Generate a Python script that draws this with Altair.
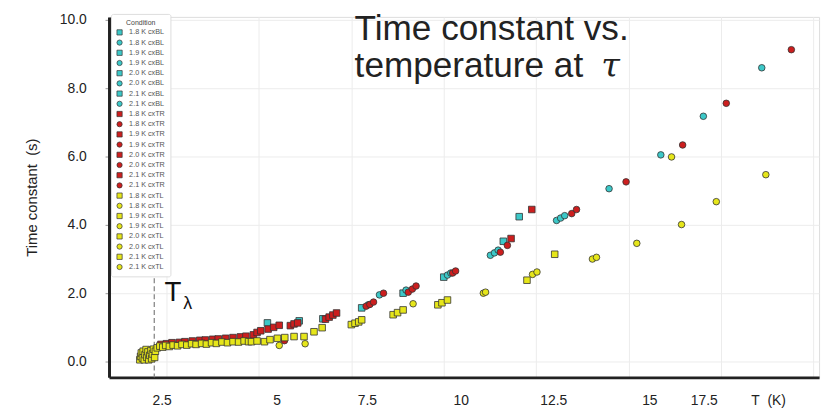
import altair as alt
import pandas as pd

# ---------------- data ----------------
# cxBL (cyan)
BL_sq_T   = [5.23, 6.09, 6.73, 7.78, 8.90, 10.00, 11.61, 12.04]
BL_sq_tau = [1.13, 1.19, 1.25, 1.57, 2.00, 2.47, 3.52, 4.24]
BL_sq_bath = ["1.8", "1.9", "2.0", "1.8", "1.9", "2.0", "2.1", "2.1"]

BL_ci_T   = [7.96, 8.26, 8.98, 10.10, 10.19, 11.26, 11.37, 11.47, 13.05, 13.16, 13.27, 14.47, 15.87, 17.02, 18.60]
BL_ci_tau = [1.66, 1.95, 2.09, 2.53, 2.59, 3.11, 3.18, 3.26, 4.13, 4.20, 4.27, 5.06, 6.05, 7.18, 8.60]
BL_ci_bath = ["1.8", "1.8", "1.9", "1.9", "2.0", "2.0", "2.1", "2.1", "1.8", "1.9", "2.0", "2.1", "1.8", "1.9", "2.0"]

# cxTR (red)
TR_sq_T   = [2.35, 2.50, 2.65, 2.85, 3.00, 3.20, 3.40, 3.55, 3.75, 3.90, 4.10, 4.30, 4.50, 4.65,
             4.85, 4.95, 5.05, 5.25, 5.40, 5.55, 5.85, 5.95, 6.05, 6.80, 6.90, 7.00, 7.10, 11.82, 12.38]
TR_sq_tau = [0.50, 0.52, 0.55, 0.56, 0.58, 0.60, 0.62, 0.63, 0.65, 0.66, 0.68, 0.70, 0.72, 0.74,
             0.78, 0.85, 0.90, 0.95, 1.00, 1.06, 1.05, 1.10, 1.13, 1.24, 1.30, 1.36, 1.42, 3.60, 4.45]
TR_sq_bath = ["1.8", "1.8", "1.8", "1.8", "1.9", "1.9", "1.9", "1.9", "2.0", "2.0", "2.0", "2.0", "2.1", "2.1",
              "1.8", "1.8", "1.9", "1.9", "2.0", "2.0", "2.1", "2.1", "2.1", "1.8", "1.9", "2.0", "2.1", "1.9", "2.0"]

TR_ci_T   = [5.69, 7.90, 8.00, 8.10, 8.37, 9.04, 9.15, 9.25, 10.24, 10.32, 11.53, 11.72, 13.46, 13.59, 14.93, 16.46, 17.64, 19.40]
TR_ci_tau = [0.61, 1.62, 1.67, 1.74, 2.00, 2.03, 2.12, 2.21, 2.59, 2.65, 3.20, 3.40, 4.33, 4.45, 5.26, 6.34, 7.56, 9.13]
TR_ci_bath = ["1.8", "1.8", "1.9", "2.0", "2.1", "1.8", "1.9", "2.0", "2.1", "1.8", "1.9", "2.0", "2.1", "1.8", "1.9", "2.0", "2.1", "1.8"]

# cxTL (yellow)
TL_sq_T   = [1.78, 1.80, 1.82, 1.85, 1.87, 1.90, 1.92, 1.95, 1.97, 2.00, 2.02, 2.05, 2.08, 2.10, 2.12, 2.15, 2.18, 2.20,
             2.25, 2.32, 2.40, 2.48, 2.58, 2.68, 2.80, 2.92, 3.05, 3.18, 3.30, 3.45, 3.58, 3.72, 3.85, 4.00, 4.15, 4.30, 4.45, 4.60, 4.72,
             4.80, 4.95, 5.15, 5.30, 5.50, 5.70, 5.95, 6.22, 6.49, 6.71, 7.50, 7.60, 7.70, 7.78, 8.63, 8.75, 8.90,
             9.84, 9.95, 10.10, 12.25, 13.00]
TL_sq_tau = [0.05, 0.15, 0.25, 0.10, 0.30, 0.05, 0.20, 0.35, 0.12, 0.28, 0.05, 0.18, 0.32, 0.08, 0.22, 0.36, 0.12, 0.30,
             0.40, 0.45, 0.42, 0.47, 0.44, 0.48, 0.46, 0.50, 0.48, 0.52, 0.50, 0.53, 0.51, 0.55, 0.53, 0.57, 0.55, 0.58, 0.57, 0.60, 0.58,
             0.58, 0.60, 0.58, 0.64, 0.68, 0.70, 0.73, 0.73, 0.87, 0.99, 1.08, 1.12, 1.16, 1.22, 1.37, 1.43, 1.51,
             1.66, 1.72, 1.80, 2.38, 3.14]
TL_sq_bath = ["1.8"] * 5 + ["1.9"] * 5 + ["2.0"] * 4 + ["2.1"] * 4 + \
             ["1.8", "1.9", "2.0", "2.1", "1.8", "1.9", "2.0", "2.1", "1.8", "1.9", "2.0", "2.1", "1.8", "1.9", "2.0", "2.1",
              "1.8", "1.9", "2.0", "2.1", "1.8",
              "1.8", "1.9", "2.0", "2.1", "1.8", "1.9", "2.0", "2.1", "1.8", "1.9", "2.0", "2.1", "1.8", "1.9", "2.0", "2.1", "1.8",
              "1.9", "2.0", "2.1", "1.8", "1.9"]

TL_ci_T   = [5.55, 6.25, 9.17, 11.07, 11.13, 12.40, 12.52, 14.02, 14.13, 15.22, 16.16, 16.43, 17.37, 18.71]
TL_ci_tau = [0.47, 0.52, 1.69, 2.00, 2.03, 2.55, 2.62, 3.00, 3.05, 3.46, 5.99, 4.01, 4.68, 5.47]
TL_ci_bath = ["1.8", "1.9", "2.0", "2.1", "1.8", "1.9", "2.0", "2.1", "1.8", "1.9", "2.0", "2.1", "1.8", "1.9"]

BATHS = ["1.8", "1.9", "2.0", "2.1"]
SENSORS = ["cxBL", "cxTR", "cxTL"]
SENSOR_COLORS = {"cxBL": "#3cc8c8", "cxTR": "#cc1e1e", "cxTL": "#e6e61a"}
SHAPES = {"sq": "square", "ci": "circle"}

T_LAMBDA = 2.17

GRID_VALUES = [2.5, 5, 7.5, 10, 12.5, 15, 17.5, 20]
XLABEL_POS = [2.37, 5.48, 7.92, 10.46, 12.96, 15.56, 17.03, 18.77]
XLABEL_TEXT = ["2.5", "5", "7.5", "10", "12.5", "15", "17.5", "T\u00a0\u00a0(K)"]
Y_TICKS = [0, 2, 4, 6, 8, 10]

# ---------------- build table ----------------
rows = []
groups = [
    ("cxBL", "sq", BL_sq_T, BL_sq_tau, BL_sq_bath),
    ("cxBL", "ci", BL_ci_T, BL_ci_tau, BL_ci_bath),
    ("cxTR", "sq", TR_sq_T, TR_sq_tau, TR_sq_bath),
    ("cxTR", "ci", TR_ci_T, TR_ci_tau, TR_ci_bath),
    ("cxTL", "sq", TL_sq_T, TL_sq_tau, TL_sq_bath),
    ("cxTL", "ci", TL_ci_T, TL_ci_tau, TL_ci_bath),
]
for sensor, shp, Ts, taus, baths in groups:
    for t, v, b in zip(Ts, taus, baths):
        rows.append({"T": t, "tau": v, "key": f"{b} K {sensor}|{shp}"})
df = pd.DataFrame(rows)

keys, colors, shapes = [], [], []
for s in SENSORS:
    for b in BATHS:
        for shp in ["sq", "ci"]:
            keys.append(f"{b} K {s}|{shp}")
            colors.append(SENSOR_COLORS[s])
            shapes.append(SHAPES[shp])

FONT = "Liberation Sans"
xscale = alt.Scale(domain=[0.946, 20.15], nice=False, zero=False)
yscale = alt.Scale(domain=[-0.465, 10.09], nice=False, zero=False)

# label expression for x labels
expr = "''"
for pos, txt in reversed(list(zip(XLABEL_POS, XLABEL_TEXT))):
    expr = f"abs(datum.value - {pos}) < 0.01 ? '{txt}' : ({expr})"

legend = alt.Legend(
    title="Condition", orient="none", legendX=2, legendY=-3,
    labelExpr="split(datum.label, '|')[0]",
    titleFontSize=7, titleFont=FONT, titleFontWeight="normal", titleColor="#444",
    titleAnchor="middle", titlePadding=3,
    labelFontSize=7.3, labelFont=FONT, labelColor="#555",
    symbolSize=28, symbolStrokeColor="#333", symbolStrokeWidth=0.7,
    rowPadding=1.3, labelOffset=6, padding=5,
    fillColor="white", strokeColor="#dddddd", cornerRadius=2,
)

points = alt.Chart(df).mark_point(
    filled=True, size=44, opacity=1, stroke="#333333", strokeWidth=0.8
).encode(
    x=alt.X("T:Q", scale=xscale, axis=alt.Axis(
        values=GRID_VALUES, grid=True, gridColor="#ececec", labels=False, ticks=False,
        domain=True, domainColor="#222222", domainWidth=3, title=None, orient="bottom")),
    y=alt.Y("tau:Q", scale=yscale, axis=alt.Axis(
        values=Y_TICKS, format=".1f", grid=True, gridColor="#ececec",
        domain=True, domainColor="#222222", domainWidth=3,
        ticks=True, tickSize=4, tickColor="#999999",
        labelFont=FONT, labelFontSize=14, labelColor="#222222", labelPadding=19,
        title="Time constant\u00a0\u00a0(s)", titleFont=FONT, titleFontSize=15,
        titleFontWeight="normal", titleColor="#222222", titlePadding=20)),
    color=alt.Color("key:N", scale=alt.Scale(domain=keys, range=colors), legend=legend),
    shape=alt.Shape("key:N", scale=alt.Scale(domain=keys, range=shapes), legend=legend),
)

rule = alt.Chart(pd.DataFrame({"T": [T_LAMBDA]})).mark_rule(
    color="#888888", strokeDash=[5, 3], strokeWidth=1.3
).encode(
    x=alt.X("T:Q", scale=xscale, axis=alt.Axis(
        values=XLABEL_POS, labelExpr=expr, grid=False, ticks=False, tickSize=0, domain=False,
        labelFont=FONT, labelFontSize=14, labelColor="#222222", labelPadding=16,
        title=None, orient="bottom"))
)

title1 = alt.Chart(pd.DataFrame({"txt": ["Time constant vs."]})).mark_text(
    font=FONT, fontSize=35.5, color="#222222", align="left", baseline="alphabetic"
).encode(text="txt:N", x=alt.value(248), y=alt.value(23))
title2 = alt.Chart(pd.DataFrame({"txt": ["temperature at"]})).mark_text(
    font=FONT, fontSize=35.5, color="#222222", align="left", baseline="alphabetic"
).encode(text="txt:N", x=alt.value(248), y=alt.value(61))
tau_txt = alt.Chart(pd.DataFrame({"txt": ["\u03c4"]})).mark_text(
    font="DejaVu Serif", fontStyle="italic", fontSize=34, color="#222222", align="left", baseline="alphabetic"
).encode(text="txt:N", x=alt.value(497), y=alt.value(61))

tl_T = alt.Chart(pd.DataFrame({"txt": ["T"]})).mark_text(
    font=FONT, fontSize=28, color="#111111", align="left", baseline="alphabetic"
).encode(text="txt:N", x=alt.value(56), y=alt.value(287))
tl_l = alt.Chart(pd.DataFrame({"txt": ["\u03bb"]})).mark_text(
    font=FONT, fontSize=18, color="#111111", align="left", baseline="alphabetic"
).encode(text="txt:N", x=alt.value(75), y=alt.value(295))

chart = alt.layer(rule, points, title1, title2, tau_txt, tl_T, tl_l).resolve_axis(
    x="independent"
).properties(
    width=717, height=364,
    autosize=alt.AutoSizeParams(type="none"),
    padding={"left": 102, "top": 7, "right": 8, "bottom": 35},
).configure_view(stroke=None).configure(background="white")

chart.save("out.html", embed_options={"renderer": "svg", "actions": False})
